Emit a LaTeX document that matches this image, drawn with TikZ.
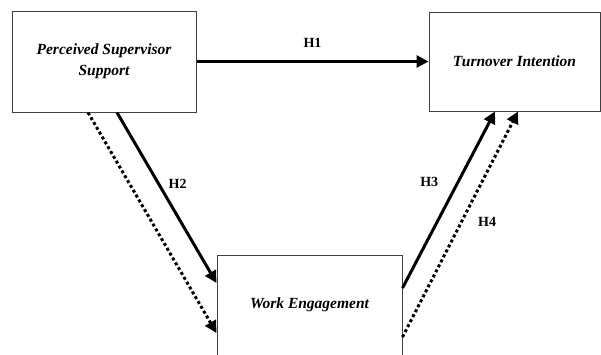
\documentclass[tikz,border=0pt]{standalone}
\usepackage{fontspec}
\setmainfont{Liberation Serif}
\usetikzlibrary{arrows.meta}

\begin{document}
\begin{tikzpicture}
  [x=1pt,y=-1pt,
   box/.style={draw=black!75,line width=1pt,inner sep=0pt,align=center,
     font=\fontsize{15.5}{21}\selectfont\bfseries\itshape},
   hyp/.style={line width=3pt,-{Triangle[length=12pt,width=12pt]}},
   hypdot/.style={hyp,dash pattern=on 3pt off 2.6pt},
   lab/.style={font=\fontsize{14}{16}\selectfont\bfseries}]

  \useasboundingbox (0,0) rectangle (601,354);

  \node[box,minimum width=184pt,minimum height=101pt] (pss) at (104,61.5) {Perceived Supervisor\\Support};
  \node[box,minimum width=171pt,minimum height=99pt] (ti) at (514.5,61.5) {Turnover Intention};
  \node[box,minimum width=185pt,minimum height=100pt] (we) at (309.5,305) {Work Engagement};

  % direct path
  \draw[hyp] (pss.east) -- node[lab,above=9pt] (h1) {H1} (ti.west);

  % via engagement
  \draw[hyp] ([xshift=13pt]pss.south) -- node[lab,pos=.42,right=5pt] (h2) {H2} ([yshift=22pt]we.west);
  \draw[hypdot] ([xshift=-16pt]pss.south) -- ([yshift=-28pt]we.west);
  \draw[hyp] ([yshift=17pt]we.east) -- node[lab,pos=.6,left=15pt] (h3) {H3} ([xshift=-19.5pt]ti.south);
  \draw[hypdot] ([yshift=-32pt]we.east) -- node[lab,pos=.51,right=12pt] (h4) {H4} ([xshift=3.5pt]ti.south);

\end{tikzpicture}
\end{document}
